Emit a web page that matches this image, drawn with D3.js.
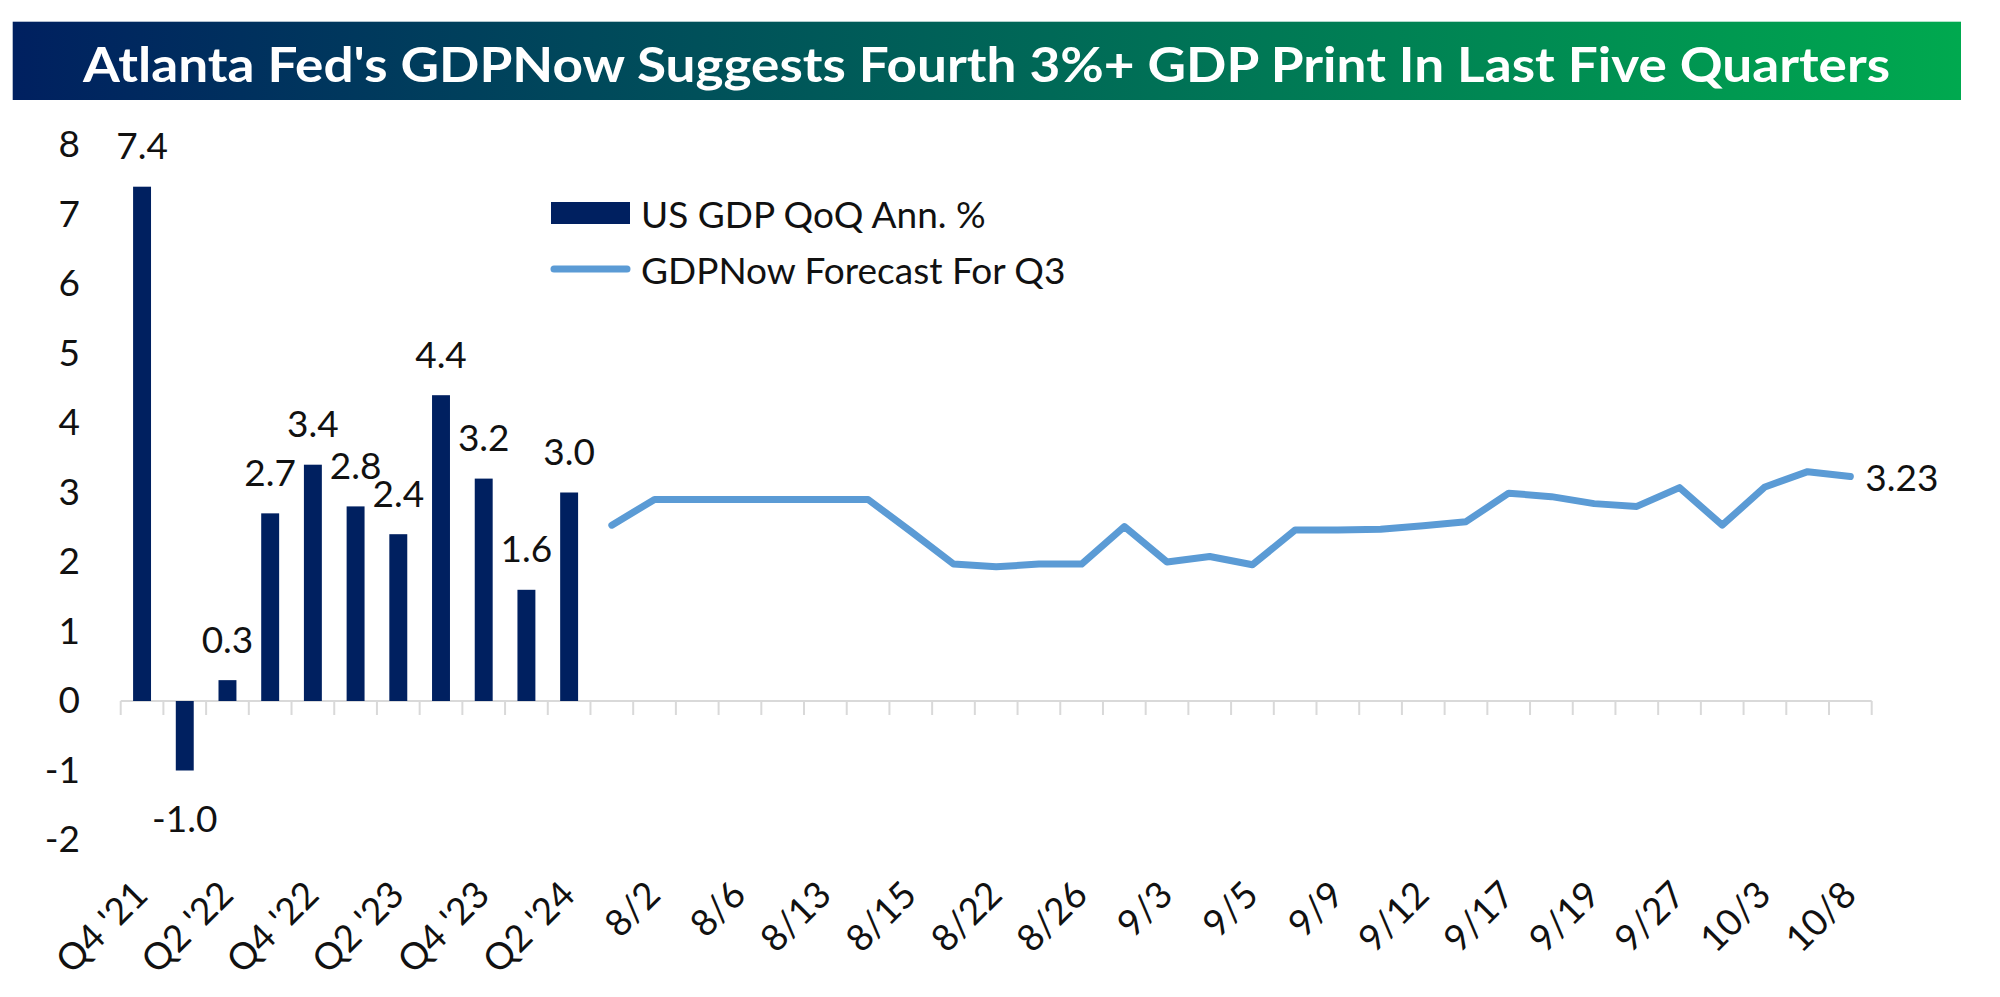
<!DOCTYPE html>
<html><head><meta charset="utf-8">
<script src="https://cdn.jsdelivr.net/npm/d3@7"></script>
<style>
body{margin:0;background:#fff;}
svg{display:block;}
text{font-family:Lato,"Open Sans","Noto Sans",sans-serif;}
</style>
</head><body>
<svg id="chart" width="2000" height="997"></svg>
<script>
// ---- data ----
const title = "Atlanta Fed's GDPNow Suggests Fourth 3%+ GDP Print In Last Five Quarters";
const quarters = ["Q4 '21","Q1 '22","Q2 '22","Q3 '22","Q4 '22","Q1 '23","Q2 '23","Q3 '23","Q4 '23","Q1 '24","Q2 '24"];
const gdpValues = [7.4,-1.0,0.3,2.7,3.4,2.8,2.4,4.4,3.2,1.6,3.0];
const dates = ["8/1","8/2","8/5","8/6","8/8","8/13","8/14","8/15","8/16","8/22","8/23","8/26","8/29","9/3","9/4","9/5","9/6","9/9","9/10","9/12","9/16","9/17","9/18","9/19","9/26","9/27","10/1","10/3","10/4","10/8"];
const nowcastValues = [2.53,2.9,2.9,2.9,2.9,2.9,2.9,2.44,1.97,1.93,1.97,1.97,2.51,2.0,2.08,1.96,2.46,2.46,2.47,2.52,2.58,2.99,2.94,2.84,2.8,3.07,2.53,3.08,3.3,3.23];
const lastLabel = "3.23";
const yTicks = [-2,-1,0,1,2,3,4,5,6,7,8];
const seriesNames = ["US GDP QoQ Ann. %","GDPNow Forecast For Q3"];

// ---- setup ----
const svg = d3.select("#chart");
const categories = quarters.concat(dates);
const x = d3.scaleBand().domain(categories).range([120.7, 1871.7]).padding(0);
const y = d3.scaleLinear().domain([-2, 8]).range([840, 145]);
const barColor = "#002060", lineColor = "#5B9BD5", axisColor = "#d9d9d9";

// title banner
const defs = svg.append("defs");
const grad = defs.append("linearGradient").attr("id","bannerGrad").attr("x1","0%").attr("x2","100%");
grad.append("stop").attr("offset","0%").attr("stop-color","#002060");
grad.append("stop").attr("offset","100%").attr("stop-color","#00A94F");
svg.append("rect").attr("x",12.7).attr("y",21.7).attr("width",1948.3).attr("height",78.3).attr("fill","url(#bannerGrad)");
svg.append("text").attr("x",83).attr("y",82).attr("fill","#fff")
  .style("font-weight","700").style("font-size","48px")
  .attr("textLength",1807).attr("lengthAdjust","spacingAndGlyphs")
  .text(title);

// y axis labels
const yAxis = svg.append("g").attr("transform","translate(88,0)")
  .call(d3.axisLeft(y).tickValues(yTicks).tickSize(0).tickPadding(8).tickFormat(d => String(d)));
yAxis.select(".domain").remove();
yAxis.selectAll("text").style("font-size","37px").attr("fill","#111").style("font-family","Lato, sans-serif");

// category axis at zero
const x0 = y(0);
svg.append("line").attr("x1",x.range()[0]).attr("x2",x.range()[1]).attr("y1",x0).attr("y2",x0)
  .attr("stroke",axisColor).attr("stroke-width",2);
const bounds = categories.map(c => x(c)).concat([x.range()[1]]);
svg.append("g").selectAll("line").data(bounds).join("line")
  .attr("x1",d=>d).attr("x2",d=>d).attr("y1",x0).attr("y2",x0+14)
  .attr("stroke",axisColor).attr("stroke-width",2);

// bars
const bw = x.bandwidth()*0.42;
svg.append("g").selectAll("rect").data(quarters.map((q,i)=>({q,v:gdpValues[i]}))).join("rect")
  .attr("x",d=>x(d.q)+x.bandwidth()/2-bw/2)
  .attr("width",bw)
  .attr("y",d=>y(Math.max(0,d.v)))
  .attr("height",d=>Math.abs(y(d.v)-y(0)))
  .attr("fill",barColor);

// bar labels
svg.append("g").selectAll("text").data(quarters.map((q,i)=>({q,v:gdpValues[i]}))).join("text")
  .attr("x",d=>x(d.q)+x.bandwidth()/2)
  .attr("y",d=>d.v>=0 ? y(d.v)-42 : y(d.v)+47)
  .attr("text-anchor","middle").attr("dominant-baseline","central")
  .style("font-size","37px").attr("fill","#111")
  .text(d=>d.v.toFixed(1));

// nowcast line
const lineData = dates.map((d,i)=>({d,v:nowcastValues[i]}));
svg.append("path").datum(lineData)
  .attr("fill","none").attr("stroke",lineColor).attr("stroke-width",7)
  .attr("stroke-linejoin","round").attr("stroke-linecap","round")
  .attr("d",d3.line().x(d=>x(d.d)+x.bandwidth()/2).y(d=>y(d.v)));
const last = lineData[lineData.length-1];
svg.append("text").attr("x",x(last.d)+x.bandwidth()/2+15).attr("y",y(last.v))
  .attr("dominant-baseline","central").style("font-size","37px").attr("fill","#111")
  .text(lastLabel);

// x tick labels (every other category)
const shown = categories.filter((c,i)=>i%2===0);
const xAxis = svg.append("g").attr("transform","translate(0,897)")
  .call(d3.axisBottom(x).tickValues(shown).tickSize(0));
xAxis.select(".domain").remove();
xAxis.selectAll("text")
  .attr("x",0).attr("y",0).attr("dy",0)
  .attr("transform","translate(8,0) rotate(-45)")
  .style("text-anchor","end").style("font-size","37px").attr("fill","#111")
  .style("font-family","Lato, sans-serif");

// legend
const lg = svg.append("g");
lg.append("rect").attr("x",551).attr("y",202).attr("width",79).attr("height",22).attr("fill",barColor);
lg.append("line").attr("x1",554).attr("x2",627).attr("y1",269).attr("y2",269)
  .attr("stroke",lineColor).attr("stroke-width",7).attr("stroke-linecap","round");
lg.selectAll("text").data(seriesNames).join("text")
  .attr("x",641).attr("y",(d,i)=>i===0?213:269)
  .attr("dominant-baseline","central").style("font-size","37px").attr("fill","#111")
  .text(d=>d);
</script>
</body></html>
